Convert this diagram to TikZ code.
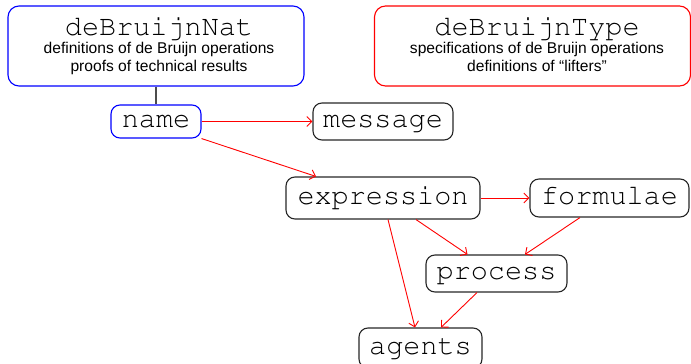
\documentclass[tikz,border=0pt]{standalone}
\usepackage{fontspec}
\setmainfont{Liberation Sans}
\setsansfont{Liberation Sans}
\setmonofont{Liberation Mono}
\usetikzlibrary{arrows.meta,calc}
\newcommand{\courierfont}{\fontencoding{T1}\fontfamily{pcr}\fontseries{m}\fontshape{n}\fontsize{28.5}{30}\selectfont}
\begin{document}
\begin{tikzpicture}[x=1pt,y=-1pt,
  bigbox/.style={draw,rounded corners=11pt,line width=1.1pt,inner sep=0pt},
  modbox/.style={draw=black!85,rounded corners=9pt,line width=1.1pt,inner sep=0pt,
     font=\courierfont,text height=15pt,text depth=3pt},
  titletext/.style={inner sep=0pt,font=\courierfont},
  desctext/.style={inner sep=0pt,font=\sffamily\fontsize{15.6}{19}\selectfont},
  dep/.style={draw=red,line width=0.9pt,-{Straight Barb[length=5pt,width=10pt]}},
  link/.style={draw=black!70,line width=1.1pt}
]
\useasboundingbox (0,0) rectangle (691,364);
% top boxes
\node[bigbox,draw=blue,minimum width=296pt,minimum height=80pt] (nat) at (156,46) {};
\node[titletext,anchor=base] (natT) at (159,35.5) {deBruijnNat};
\node[desctext,anchor=base] (natA) at (159,53) {definitions of de Bruijn operations};
\node[desctext,anchor=base] (natB) at (159,71) {proofs of technical results};
\node[bigbox,draw=red,minimum width=316pt,minimum height=80pt] (typ) at (532.5,46) {};
\node[titletext,anchor=base] (typT) at (537,35.5) {deBruijnType};
\node[desctext,anchor=base] (typA) at (537,53) {specifications of de Bruijn operations};
\node[desctext,anchor=base] (typB) at (537,71) {definitions of ``lifters''};
% modules
\node[modbox,draw=blue,minimum width=90pt,minimum height=33pt] (name) at (156,121.5) {name};
\node[modbox,minimum width=140pt,minimum height=37pt] (message) at (383,121.5) {message};
\node[modbox,minimum width=194pt,minimum height=42pt] (expression) at (383,198) {expression};
\node[modbox,minimum width=159pt,minimum height=38pt] (formulae) at (609.5,198) {formulae};
\node[modbox,minimum width=141pt,minimum height=37pt] (process) at (496.5,273.5) {process};
\node[modbox,minimum width=123pt,minimum height=40pt] (agents) at (420.5,348) {agents};
% connectors
\draw[link] (nat.south) -- (name.north);
\draw[dep] (name.east) -- (message.west);
\draw[dep] (name.south east) -- ($(expression.north)+(-67,0)$);
\draw[dep] (expression.east) -- (formulae.west);
\draw[dep] ($(expression.south)+(33,0)$) -- ($(process.north)+(-29,0)$);
\draw[dep] ($(formulae.south)+(-29.5,0)$) -- ($(process.north)+(28.5,0)$);
\draw[dep] ($(expression.south)+(5,0)$) -- ($(agents.north)+(-5.5,0)$);
\draw[dep] ($(process.south)+(-19.5,0)$) -- ($(agents.north)+(20.5,0)$);
\end{tikzpicture}
\end{document}
